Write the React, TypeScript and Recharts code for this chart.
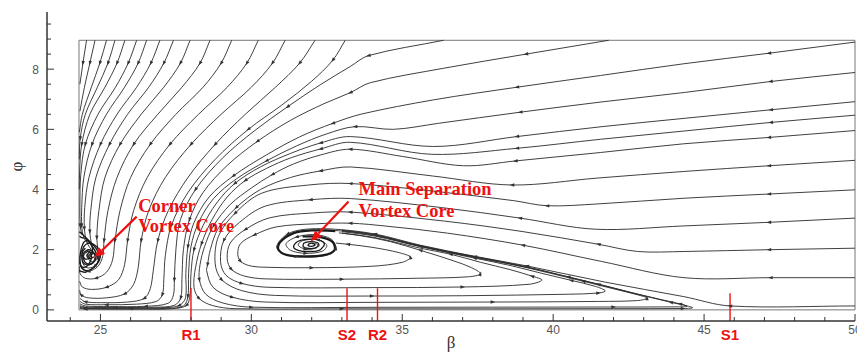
import React from 'react';
import { LineChart, Line, XAxis, YAxis, ReferenceLine, ReferenceArea, ReferenceDot } from 'recharts';

type Pt = [number, number];

// ---- axes ----
const xTicks = [24, 25, 26, 27, 28, 29, 30, 31, 32, 33, 34, 35, 36, 37, 38, 39, 40, 41, 42, 43, 44, 45, 46, 47, 48, 49, 50];
const xLabelTicks = [25, 30, 35, 40, 45, 50];
const yTicks = [0, 0.5, 1, 1.5, 2, 2.5, 3, 3.5, 4, 4.5, 5, 5.5, 6, 6.5, 7, 7.5, 8, 8.5, 9, 9.5];
const yLabelTicks = [0, 2, 4, 6, 8];
const xDomain: [number, number] = [23.23, 50];
const yDomain: [number, number] = [-0.37, 9.9];
const frameBeta: [number, number] = [24.29, 50];
const framePhi: [number, number] = [0, 8.96];

// ---- red markers on the wall ----
const markerBetas = [28.0, 33.17, 34.18, 45.86];
const markerNames = ['R1', 'S2', 'R2', 'S1'];
const markerTops = [0.73, 0.72, 0.72, 0.55];

// ---- annotations ----
const noteTexts = ['Corner', 'Vortex Core', 'Main Separation', 'Vortex Core'];
const noteBetas = [26.25, 26.25, 33.55, 33.55];
const notePhis = [3.25, 2.59, 3.82, 3.09];
const arrowFrom: Pt[] = [[26.2, 3.1], [33.22, 3.6]];
const arrowTo: Pt[] = [[24.79, 1.72], [31.97, 2.27]];

// ---- streamlines entering through the top edge ----
const top0: Pt[] = [[24.54, 8.96], [24.42, 8.2], [24.32, 7.5]];
const top1: Pt[] = [[24.82, 8.96], [24.65, 8.2], [24.47, 7.4], [24.32, 6.6]];
const top2: Pt[] = [[25.2, 8.96], [24.98, 8.2], [24.7, 7.4], [24.4, 6.5], [24.3, 5.9]];
const top3: Pt[] = [[25.48, 8.96], [25.25, 8.2], [24.9, 7.4], [24.5, 6.5], [24.33, 5.7], [24.3, 5.0]];
const top4: Pt[] = [[25.81, 8.96], [25.55, 8.2], [25.15, 7.4], [24.65, 6.5], [24.38, 5.5], [24.31, 4.6], [24.3, 4.0]];
const top5: Pt[] = [[26.2, 8.96], [25.92, 8.2], [25.5, 7.4], [24.92, 6.5], [24.5, 5.5], [24.35, 4.5], [24.32, 3.5], [24.33, 2.8], [24.38, 2.5]];
const top6: Pt[] = [[26.53, 8.96], [26.25, 8.2], [25.8, 7.4], [25.2, 6.5], [24.72, 5.5], [24.45, 4.4], [24.38, 3.4], [24.38, 2.8], [24.45, 2.4], [24.6, 2.2]];
const top7: Pt[] = [[26.97, 8.96], [26.67, 8.2], [26.2, 7.4], [25.55, 6.5], [25.0, 5.5], [24.62, 4.4], [24.48, 3.4], [24.47, 2.7], [24.55, 2.25], [24.7, 2.0], [24.82, 1.85]];
const top8: Pt[] = [[27.42, 8.96], [27.1, 8.2], [26.6, 7.4], [25.9, 6.5], [25.3, 5.5], [24.85, 4.4], [24.68, 3.3], [24.65, 2.6], [24.72, 2.15], [24.85, 1.9], [24.9, 1.72], [24.78, 1.6], [24.62, 1.66], [24.62, 1.82], [24.75, 1.85]];
const top9: Pt[] = [[27.97, 8.96], [27.65, 8.2], [27.1, 7.4], [26.35, 6.5], [25.65, 5.5], [25.15, 4.4], [24.95, 3.3], [24.88, 2.4], [24.92, 2.0], [24.95, 1.7], [24.8, 1.45], [24.55, 1.4], [24.4, 1.6], [24.45, 1.9], [24.65, 2.0], [24.8, 1.88]];
const top10: Pt[] = [[28.63, 8.96], [28.3, 8.2], [27.7, 7.4], [26.9, 6.5], [26.1, 5.5], [25.55, 4.4], [25.25, 3.3], [25.12, 2.3], [25.08, 1.8], [24.92, 1.45], [24.6, 1.28], [24.38, 1.38], [24.32, 1.7], [24.38, 2.0]];
const top11: Pt[] = [[29.35, 8.96], [29.0, 8.2], [28.4, 7.4], [27.5, 6.5], [26.65, 5.5], [26.0, 4.4], [25.65, 3.3], [25.48, 2.3], [25.4, 1.65], [25.2, 1.25], [24.85, 1.05], [24.5, 1.05], [24.33, 1.2], [24.31, 1.45]];
const top12: Pt[] = [[30.23, 8.96], [29.85, 8.2], [29.2, 7.4], [28.25, 6.5], [27.3, 5.5], [26.55, 4.4], [26.1, 3.3], [25.9, 2.3], [25.8, 1.5], [25.6, 1.0], [25.2, 0.75], [24.7, 0.68], [24.4, 0.76], [24.31, 0.95]];
const top13: Pt[] = [[31.12, 8.96], [30.7, 8.2], [30.0, 7.4], [29.0, 6.5], [28.0, 5.5], [27.15, 4.4], [26.6, 3.3], [26.35, 2.3], [26.25, 1.4], [26.1, 0.85], [25.8, 0.53], [25.2, 0.4], [24.6, 0.4], [24.36, 0.5], [24.31, 0.65]];
const top14: Pt[] = [[32.11, 8.96], [31.6, 8.2], [30.8, 7.4], [29.8, 6.5], [28.8, 5.5], [27.9, 4.4], [27.25, 3.3], [26.9, 2.3], [26.75, 1.3], [26.65, 0.7], [26.45, 0.38], [25.9, 0.26], [25.0, 0.24], [24.5, 0.27], [24.32, 0.38]];
const top15: Pt[] = [[33.11, 8.96], [32.7, 8.3], [32.0, 7.6], [31.0, 6.8], [29.9, 6.0], [28.8, 5.0], [27.9, 3.9], [27.35, 2.8], [27.15, 1.8], [27.1, 1.0], [27.05, 0.5], [26.85, 0.28], [26.2, 0.19], [25.2, 0.17], [24.5, 0.19], [24.32, 0.28]];
const topA: Pt[] = [[36.37, 8.96], [33.88, 8.45], [33.28, 8.09], [32.28, 7.48], [31.2, 6.75], [30.1, 5.95], [29.05, 5.05], [28.15, 4.0], [27.65, 3.0], [27.5, 2.0], [27.45, 1.0], [27.42, 0.5], [27.25, 0.22], [26.5, 0.12], [25.3, 0.11], [24.5, 0.13], [24.32, 0.2]];
const topB: Pt[] = [[41.84, 8.96], [39.1, 8.5], [36.37, 8.03], [33.94, 7.55], [33.28, 7.22], [32.4, 6.85], [31.3, 6.3], [30.2, 5.6], [29.2, 4.8], [28.4, 3.9], [27.95, 3.0], [27.75, 2.0], [27.7, 1.0], [27.66, 0.4], [27.45, 0.15], [26.8, 0.09], [25.5, 0.08], [24.5, 0.09], [24.32, 0.14]];

// ---- streamlines entering through the right edge ----
const right890: Pt[] = [[50, 8.9], [47.15, 8.53], [44.33, 8.18], [41.57, 7.79], [38.8, 7.4], [36.04, 6.98], [33.66, 6.51], [32.7, 6.2], [31.6, 5.75], [30.5, 5.15], [29.4, 4.45], [28.6, 3.75], [28.1, 2.9], [27.9, 2.1], [27.83, 1.2], [27.82, 0.4], [27.6, 0.14], [27.0, 0.07], [26.0, 0.06], [24.5, 0.065], [24.32, 0.11]];
const right789: Pt[] = [[50, 7.89], [47.2, 7.59], [44.39, 7.23], [41.68, 6.92], [38.91, 6.57], [36.2, 6.2], [34.71, 6.0], [33.44, 6.09], [32.5, 5.85], [31.5, 5.45], [30.5, 4.95], [29.5, 4.35], [28.75, 3.7], [28.25, 2.9], [28.0, 2.1], [27.92, 1.2], [27.9, 0.45], [27.75, 0.13], [27.2, 0.05], [26.0, 0.04], [24.5, 0.045], [24.32, 0.08]];
const right692: Pt[] = [[50, 6.92], [47.21, 6.65], [44.39, 6.37], [41.62, 6.09], [38.8, 5.76], [36.04, 5.43], [33.28, 5.76], [32.3, 5.55], [31.3, 5.2], [30.3, 4.75], [29.45, 4.2], [28.85, 3.55], [28.4, 2.8], [28.1, 2.0], [28.0, 1.2], [27.97, 0.5], [27.85, 0.15], [27.4, 0.04], [26.5, 0.025], [24.5, 0.03], [24.32, 0.05]];
const right647: Pt[] = [[50, 6.47], [47.21, 6.23], [44.39, 5.95], [41.57, 5.67], [38.8, 5.37], [35.98, 5.17], [33.28, 5.57], [32.3, 5.35], [31.3, 5.05], [30.5, 4.7], [29.8, 4.3], [29.2, 3.75], [28.7, 3.0], [28.35, 2.2], [28.15, 1.4], [28.1, 0.75], [28.27, 0.38], [28.71, 0.145], [29.46, 0.04], [33.0, 0.035], [38.0, 0.035], [42.0, 0.04], [44.3, 0.045], [44.62, 0.07], [44.45, 0.13], [43.9, 0.25], [43.0, 0.47], [41.8, 0.78], [40.5, 1.1], [39.1, 1.42], [37.4, 1.74], [35.6, 2.11], [34.1, 2.47], [32.9, 2.63], [32.2, 2.66]];
const right596: Pt[] = [[50, 5.96], [47.15, 5.73], [44.33, 5.52], [41.57, 5.23], [38.75, 4.95], [37.03, 4.79], [35.0, 5.1], [33.28, 5.34], [32.3, 5.15], [31.4, 4.85], [30.7, 4.5], [30.0, 4.05], [29.3, 3.5], [28.75, 2.8], [28.45, 2.1], [28.3, 1.5], [28.28, 1.0], [28.49, 0.52], [29.05, 0.23], [30.0, 0.09], [34.0, 0.085], [38.0, 0.09], [42.0, 0.095], [44.1, 0.1], [44.44, 0.12], [44.2, 0.2], [43.5, 0.36], [42.6, 0.57], [41.5, 0.85], [40.3, 1.14], [39.1, 1.44], [37.4, 1.77], [35.6, 2.13], [34.1, 2.5], [33.0, 2.65]];
const right497: Pt[] = [[50, 4.97], [47.15, 4.79], [44.33, 4.6], [41.46, 4.38], [38.64, 4.15], [36.0, 4.45], [33.28, 4.75], [32.3, 4.62], [31.3, 4.4], [30.3, 4.0], [29.5, 3.4], [28.9, 2.7], [28.64, 2.0], [28.55, 1.5], [28.52, 1.3], [28.73, 0.75], [29.37, 0.42], [30.46, 0.26], [34.0, 0.25], [38.0, 0.26], [41.5, 0.28], [42.8, 0.31], [43.11, 0.39], [42.8, 0.5], [42.0, 0.7], [41.0, 0.95], [39.9, 1.22], [38.6, 1.52], [37.4, 1.76], [35.6, 2.12], [34.1, 2.49], [33.0, 2.64]];
const right401: Pt[] = [[50, 3.99], [47.15, 3.85], [44.33, 3.71], [41.46, 3.52], [39.8, 3.46], [38.69, 3.63], [36.0, 3.95], [33.28, 4.2], [31.9, 4.15], [30.35, 3.88], [29.46, 3.21], [28.91, 2.44], [28.8, 1.55], [29.02, 1.0], [29.68, 0.64], [30.8, 0.48], [34.0, 0.46], [37.0, 0.47], [40.5, 0.52], [41.5, 0.56], [41.73, 0.63], [41.4, 0.78], [40.6, 0.98], [39.6, 1.22], [38.6, 1.47], [37.4, 1.72], [35.6, 2.1], [34.1, 2.45], [33.0, 2.6]];
const right305: Pt[] = [[50, 3.05], [47.15, 2.91], [44.33, 2.79], [41.4, 2.68], [38.9, 3.05], [36.3, 3.4], [33.28, 3.7], [31.96, 3.66], [30.47, 3.45], [29.61, 2.91], [29.09, 2.31], [28.98, 1.6], [29.16, 1.15], [29.68, 0.88], [30.58, 0.75], [34.0, 0.74], [37.0, 0.76], [39.2, 0.85], [39.63, 0.99], [39.3, 1.12], [38.6, 1.33], [37.6, 1.58], [36.6, 1.85], [35.6, 2.05], [34.1, 2.4], [33.0, 2.55]];
const right205: Pt[] = [[50, 2.05], [47.15, 2.0], [44.33, 1.94], [42.8, 1.94], [41.5, 2.18], [39.0, 2.6], [36.4, 2.95], [33.28, 3.25], [32.02, 3.22], [30.61, 3.06], [29.8, 2.67], [29.3, 2.22], [29.2, 1.7], [29.34, 1.35], [29.75, 1.13], [30.46, 1.03], [33.0, 1.02], [35.5, 1.05], [37.2, 1.1], [37.59, 1.2], [37.3, 1.4], [36.7, 1.63], [35.6, 1.98], [34.6, 2.27], [33.6, 2.47], [32.9, 2.56]];
const right107: Pt[] = [[50, 1.07], [47.2, 1.07], [44.33, 1.07], [41.6, 1.61], [39.0, 2.15], [36.5, 2.55], [34.5, 2.78], [33.28, 2.88], [32.13, 2.86], [30.84, 2.76], [30.1, 2.49], [29.64, 2.2], [29.55, 1.85], [29.64, 1.62], [29.9, 1.48], [30.35, 1.42], [32.0, 1.4], [34.0, 1.45], [35.0, 1.58], [35.27, 1.75], [34.9, 1.9], [34.0, 2.08], [33.2, 2.18], [32.8, 2.22]];
const separatrixS1: Pt[] = [[50, 0.13], [45.86, 0.13], [44.33, 0.44], [41.73, 0.92], [39.13, 1.46], [37.4, 1.78], [35.6, 2.15], [34.1, 2.52], [32.78, 2.68], [31.8, 2.68], [31.2, 2.52], [30.84, 2.12], [31.0, 1.88], [31.5, 1.77], [32.1, 1.76], [32.6, 1.85], [32.8, 2.05], [32.65, 2.35], [32.1, 2.5], [31.5, 2.42], [31.15, 2.2], [31.3, 1.98], [31.8, 1.88], [32.35, 1.95], [32.5, 2.15], [32.2, 2.33], [31.7, 2.3], [31.55, 2.15], [31.8, 2.02], [32.15, 2.06], [32.2, 2.18], [32.0, 2.2]];

// ---- vortex cores ----
const mainRing1: Pt[] = [[32.78, 2.62], [32.0, 2.64], [31.4, 2.55], [30.95, 2.25], [30.9, 2.0], [31.2, 1.82], [31.8, 1.78], [32.4, 1.82], [32.75, 1.98], [32.7, 2.25], [32.3, 2.42], [31.7, 2.44]];
const mainRing2: Pt[] = [[32.4, 2.12], [32.25, 1.98], [31.9, 1.94], [31.55, 1.98], [31.4, 2.1], [31.55, 2.28], [31.95, 2.35], [32.3, 2.3], [32.42, 2.2], [32.4, 2.12]];
const mainRing3: Pt[] = [[32.25, 2.14], [32.1, 2.05], [31.9, 2.04], [31.72, 2.1], [31.75, 2.22], [31.95, 2.27], [32.2, 2.23], [32.25, 2.14]];
const mainRing4: Pt[] = [[32.12, 2.15], [32.0, 2.11], [31.88, 2.14], [31.92, 2.2], [32.05, 2.21], [32.12, 2.15]];
const cornerSpiral1: Pt[] = [[24.3, 2.6], [24.42, 2.5], [24.62, 2.3], [24.85, 2.05], [24.95, 1.8], [24.9, 1.55], [24.7, 1.35], [24.48, 1.32], [24.34, 1.5], [24.33, 1.85], [24.42, 2.2], [24.55, 2.3], [24.7, 2.15], [24.85, 1.9], [24.82, 1.65], [24.65, 1.52], [24.48, 1.6], [24.45, 1.85], [24.6, 2.0], [24.78, 1.9], [24.84, 1.79]];
const cornerSpiral2: Pt[] = [[24.3, 1.3], [24.5, 1.25], [24.75, 1.38], [24.95, 1.62], [25.0, 1.88], [24.88, 2.1], [24.65, 2.22], [24.45, 2.1], [24.38, 1.8], [24.45, 1.55], [24.65, 1.5], [24.8, 1.65], [24.8, 1.85], [24.65, 1.92], [24.55, 1.8], [24.65, 1.7], [24.78, 1.76]];
const cornerSpiral3: Pt[] = [[24.31, 2.45], [24.38, 2.4], [24.5, 2.38], [24.68, 2.2], [24.74, 1.95], [24.62, 1.72], [24.48, 1.7], [24.4, 1.9], [24.5, 2.05]];
const cornerSpiral4: Pt[] = [[24.31, 1.6], [24.36, 1.45], [24.5, 1.42], [24.65, 1.58], [24.7, 1.8], [24.6, 1.95], [24.5, 1.88]];

const openLines: Pt[][] = [
  top0, top1, top2, top3, top4, top5, top6, top7, top8, top9, top10, top11, top12, top13, top14, top15, topA, topB,
  right890, right789, right692, right647, right596, right497, right401, right305, right205, right107, separatrixS1,
];
const coreLines: Pt[][] = [mainRing1, mainRing2, mainRing3, mainRing4, cornerSpiral1, cornerSpiral2, cornerSpiral3, cornerSpiral4];

// smooth curve through points (chord-weighted Catmull-Rom)
function smoothCurve(context: any) {
  let pts: number[][] = [];
  return {
    areaStart() {},
    areaEnd() {},
    lineStart() {
      pts = [];
    },
    point(x: number, y: number) {
      pts.push([+x, +y]);
    },
    lineEnd() {
      const n = pts.length;
      if (!n) return;
      context.moveTo(pts[0][0], pts[0][1]);
      if (n === 1) return;
      const tan = pts.map((p, i) => {
        const a = pts[Math.max(0, i - 1)];
        const b = pts[Math.min(n - 1, i + 1)];
        const d1 = Math.hypot(p[0] - a[0], p[1] - a[1]);
        const d2 = Math.hypot(b[0] - p[0], b[1] - p[1]);
        const s = d1 + d2 || 1;
        return [(b[0] - a[0]) / s, (b[1] - a[1]) / s];
      });
      for (let i = 0; i < n - 1; i++) {
        const p = pts[i];
        const q = pts[i + 1];
        const d = Math.hypot(q[0] - p[0], q[1] - p[1]) / 3;
        context.bezierCurveTo(
          p[0] + tan[i][0] * d,
          p[1] + tan[i][1] * d,
          q[0] - tan[i + 1][0] * d,
          q[1] - tan[i + 1][1] * d,
          q[0],
          q[1]
        );
      }
    },
  };
}

const RED = '#ee1111';
const SANS = '"Liberation Sans", Arial, Helvetica, sans-serif';
const SERIF = '"Liberation Serif", "Times New Roman", Times, serif';

// small arrow heads along a streamline (direction from neighbouring points)
const makeArrowDot = (pts: Pt[], li: number) => (dp: any) => {
  const { cx, cy, index } = dp;
  const key = `d${li}-${index}`;
  if (cx == null || cy == null || index < 1 || index >= pts.length - 1 || index % 3 !== 1) return <g key={key} />;
  const a = pts[index - 1];
  const b = pts[index + 1];
  let dx = b[0] - a[0];
  let dy = -(b[1] - a[1]);
  const L = Math.hypot(dx, dy) || 1;
  dx /= L;
  dy /= L;
  const tx = cx + dx * 2.4;
  const ty = cy + dy * 2.4;
  const bx = cx - dx * 2.2;
  const by = cy - dy * 2.2;
  return (
    <polygon
      key={key}
      points={`${tx},${ty} ${bx - dy * 1.7},${by + dx * 1.7} ${bx + dy * 1.7},${by - dx * 1.7}`}
      fill="#333"
    />
  );
};

const XTick = (props: any) => {
  const { x, y, payload } = props;
  const major = xLabelTicks.includes(payload.value);
  return (
    <g>
      <line x1={x} x2={x} y1={y} y2={y - (major ? 7 : 4)} stroke="#333" strokeWidth={1} />
      {major && (
        <text x={x} y={y + 12.5} textAnchor="middle" fontSize={12} fill="#555" fontFamily={SANS}>
          {payload.value}
        </text>
      )}
    </g>
  );
};

const YTick = (props: any) => {
  const { x, y, payload } = props;
  const major = yLabelTicks.includes(payload.value);
  return (
    <g>
      <line x1={x} x2={x + (major ? 7 : 4)} y1={y} y2={y} stroke="#333" strokeWidth={1} />
      {major && (
        <text x={x - 8} y={y + 4.5} textAnchor="end" fontSize={12} fill="#555" fontFamily={SANS}>
          {payload.value}
        </text>
      )}
    </g>
  );
};

const ArrowShape = (p: any) => {
  const { x1, y1, x2, y2 } = p;
  const dx = x2 - x1;
  const dy = y2 - y1;
  const len = Math.hypot(dx, dy) || 1;
  const ux = dx / len;
  const uy = dy / len;
  const hl = 11;
  const hw = 4.5;
  const bx = x2 - ux * hl;
  const by = y2 - uy * hl;
  return (
    <g>
      <line x1={x1} y1={y1} x2={bx} y2={by} stroke={RED} strokeWidth={2.2} />
      <polygon points={`${x2},${y2} ${bx - uy * hw},${by + ux * hw} ${bx + uy * hw},${by - ux * hw}`} fill={RED} />
    </g>
  );
};

const MarkerShape = (p: any) => {
  const { x1, y1, x2, y2, name } = p;
  const bottom = Math.max(y1, y2);
  return (
    <g>
      <line x1={x1} y1={y1} x2={x2} y2={y2} stroke={RED} strokeWidth={1.4} />
      <text x={x1} y={bottom + 18.5} textAnchor="middle" fontSize={15} fontWeight="bold" fill={RED} fontFamily={SANS}>
        {name}
      </text>
    </g>
  );
};

export default function App() {
  return (
    <div style={{ position: 'absolute', left: 0, top: 0, width: 857, height: 354, background: '#fff' }}>
      <LineChart width={857} height={354} margin={{ top: 12, right: 2, bottom: 0, left: 0 }}>
        <XAxis
          type="number"
          dataKey="x"
          domain={xDomain}
          ticks={xTicks}
          interval={0}
          tickSize={0}
          tickMargin={0}
          tickLine={false}
          height={33}
          axisLine={{ stroke: '#333', strokeWidth: 1.5 }}
          tick={<XTick />}
          allowDataOverflow
          label={(lp: any) => {
            const vb = lp.viewBox || {};
            return (
              <text x={vb.x + vb.width / 2} y={vb.y + 27} textAnchor="middle" fontSize={17} fill="#333" fontFamily={SERIF}>
                β
              </text>
            );
          }}
        />
        <YAxis
          type="number"
          domain={yDomain}
          ticks={yTicks}
          interval={0}
          tickSize={0}
          tickMargin={0}
          tickLine={false}
          width={47}
          axisLine={{ stroke: '#333', strokeWidth: 1.5 }}
          tick={<YTick />}
          allowDataOverflow
          label={(lp: any) => {
            const vb = lp.viewBox || {};
            const cx = vb.x + 18;
            const cy = vb.y + vb.height / 2;
            return (
              <text x={cx} y={cy} textAnchor="middle" dominantBaseline="middle" fontSize={17} fill="#333" fontFamily={SERIF} transform={`rotate(-90 ${cx} ${cy})`}>
                φ
              </text>
            );
          }}
        />
        <ReferenceArea
          x1={frameBeta[0]}
          x2={frameBeta[1]}
          y1={framePhi[0]}
          y2={framePhi[1]}
          fill="none"
          fillOpacity={0}
          stroke="#777"
          strokeWidth={1}
          ifOverflow="visible"
        />
        {openLines.map((pts, i) => (
          <Line
            key={`s${i}`}
            data={pts.map(([x, y]) => ({ x, y }))}
            dataKey="y"
            type={smoothCurve as any}
            stroke="#2a2a2a"
            strokeWidth={0.9}
            dot={makeArrowDot(pts, i)}
            activeDot={false}
            isAnimationActive={false}
            legendType="none"
          />
        ))}
        {coreLines.map((pts, i) => (
          <Line
            key={`c${i}`}
            data={pts.map(([x, y]) => ({ x, y }))}
            dataKey="y"
            type={smoothCurve as any}
            stroke="#1a1a1a"
            strokeWidth={i === 0 ? 2.2 : 1.3}
            dot={false}
            activeDot={false}
            isAnimationActive={false}
            legendType="none"
          />
        ))}
        {markerBetas.map((b, i) => (
          <ReferenceLine
            key={`m${i}`}
            segment={[{ x: b, y: markerTops[i] }, { x: b, y: yDomain[0] }]}
            ifOverflow="visible"
            shape={(p: any) => <MarkerShape {...p} name={markerNames[i]} />}
          />
        ))}
        {arrowFrom.map((f, i) => (
          <ReferenceLine
            key={`a${i}`}
            segment={[{ x: f[0], y: f[1] }, { x: arrowTo[i][0], y: arrowTo[i][1] }]}
            ifOverflow="visible"
            shape={(p: any) => <ArrowShape {...p} />}
          />
        ))}
        {noteTexts.map((t, i) => (
          <ReferenceDot
            key={`n${i}`}
            x={noteBetas[i]}
            y={notePhis[i]}
            r={1}
            ifOverflow="visible"
            shape={(p: any) => (
              <text x={p.cx} y={p.cy} fontSize={18.5} fontWeight="bold" fill={RED} fontFamily={SERIF}>
                {t}
              </text>
            )}
          />
        ))}
      </LineChart>
    </div>
  );
}
